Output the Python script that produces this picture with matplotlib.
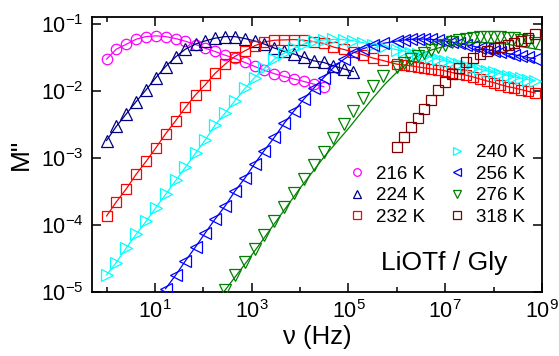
import numpy as np
import matplotlib.pyplot as plt
from matplotlib.lines import Line2D
from matplotlib.ticker import FixedLocator, NullLocator, NullFormatter

plt.rcParams['font.family'] = ['Liberation Sans', 'DejaVu Sans']
plt.rcParams['mathtext.default'] = 'regular'

# --- frequency grids (log10 of Hz) ---
LOGF_LOW = [0.00, 0.20, 0.41, 0.61, 0.82, 1.02, 1.22, 1.43, 1.63, 1.84,
            2.04, 2.24, 2.45, 2.65, 2.86, 3.06, 3.26, 3.47, 3.67, 3.88,
            4.08, 4.28, 4.49, 4.69, 4.90, 5.10, 5.30, 5.51, 5.71]
LOGF_HIGH = [6.00, 6.14, 6.29, 6.43, 6.57, 6.71, 6.86, 7.00, 7.14, 7.29,
             7.43, 7.57, 7.71, 7.86, 8.00, 8.14, 8.29, 8.43, 8.57, 8.71, 8.86]

# --- log10(M'') ---
LOGM_216 = [-1.525, -1.377, -1.302, -1.228, -1.188, -1.178, -1.188, -1.218, -1.258, -1.307,
            -1.362, -1.411, -1.466, -1.515, -1.575, -1.634, -1.689, -1.743, -1.783, -1.823,
            -1.858, -1.897, -1.937]
LOGM_224 = [-2.74, -2.53, -2.34, -2.16, -1.98, -1.80, -1.635, -1.49, -1.376, -1.30,
            -1.253, -1.213, -1.189, -1.189, -1.218, -1.253, -1.30, -1.36, -1.41, -1.45,
            -1.50, -1.55, -1.575, -1.625, -1.67, -1.71]
LOGM_232 = [-3.865, -3.657, -3.458, -3.245, -3.048, -2.848, -2.640, -2.442, -2.245, -2.056,
            -1.907, -1.739, -1.60, -1.486, -1.40, -1.327, -1.268, -1.243, -1.238, -1.233,
            -1.243, -1.263, -1.29, -1.345, -1.38, -1.42, -1.46, -1.51, -1.545,
            -1.60, -1.61, -1.625, -1.64, -1.655, -1.67, -1.68, -1.70, -1.725, -1.745,
            -1.765, -1.79, -1.82, -1.85, -1.875, -1.905, -1.935, -1.955, -1.98, -2.005, -2.03]
LOGM_240 = [-4.747, -4.56, -4.34, -4.14, -3.944, -3.74, -3.543, -3.335, -3.137, -2.929,
            -2.73, -2.51, -2.33, -2.15, -1.962, -1.80, -1.66, -1.525, -1.436, -1.36,
            -1.30, -1.26, -1.24, -1.23, -1.235, -1.25, -1.28, -1.31, -1.34,
            -1.385, -1.405, -1.43, -1.45, -1.475, -1.50, -1.525, -1.55, -1.575, -1.60,
            -1.625, -1.65, -1.675, -1.70, -1.72, -1.745, -1.77, -1.79, -1.81, -1.83, -1.85]
LOGM_256 = [-4.95, -4.747, -4.535, -4.326, -4.118, -3.915, -3.717, -3.498, -3.30, -3.086,
            -2.889, -2.69, -2.483, -2.294, -2.12, -1.96, -1.80, -1.65, -1.53, -1.43,
            -1.37, -1.32, -1.29,
            -1.255, -1.24, -1.23, -1.225, -1.225, -1.23, -1.24, -1.255, -1.27, -1.29,
            -1.31, -1.33, -1.355, -1.38, -1.40, -1.42, -1.44, -1.46, -1.48, -1.50, -1.52]
LOGM_276 = [-4.97, -4.75, -4.55, -4.36, -4.15, -3.94, -3.73, -3.523, -3.32, -3.11,
            -2.914, -2.706, -2.50, -2.30, -2.10, -1.92, -1.78,
            -1.64, -1.58, -1.53, -1.48, -1.43, -1.39, -1.35, -1.31, -1.27, -1.24,
            -1.22, -1.205, -1.195, -1.19, -1.19, -1.195, -1.205, -1.215, -1.235, -1.26, -1.29]
LOGM_318 = [-2.83, -2.68, -2.542, -2.402, -2.264, -2.13, -1.98, -1.86, -1.748, -1.659,
            -1.575, -1.51, -1.45, -1.40, -1.36, -1.338, -1.312, -1.278, -1.253, -1.203, -1.153]

# fit curve of 276 K (drawn separately, it does not go through the points)
LOGF_FIT_276 = [2.40, 3.00, 3.50, 4.00, 4.50, 5.00, 5.50, 5.75, 6.00, 6.25, 6.50, 6.75,
                7.00, 7.25, 7.50, 7.75, 8.00, 8.25, 8.50, 8.75, 9.00]
LOGM_FIT_276 = [-5.02, -4.45, -3.95, -3.45, -2.98, -2.56, -2.11, -1.90, -1.72, -1.57, -1.45, -1.38,
                -1.33, -1.30, -1.28, -1.275, -1.285, -1.30, -1.33, -1.36, -1.39]

series = [
    ('216 K', '#FF00FF', 'o', 7.5, LOGF_LOW[0:23], LOGM_216, True),
    ('224 K', '#000080', '^', 8.5, LOGF_LOW[0:26], LOGM_224, True),
    ('232 K', '#FF0000', 's', 7.0, LOGF_LOW + LOGF_HIGH, LOGM_232, True),
    ('240 K', '#00FFFF', '>', 8.5, LOGF_LOW + LOGF_HIGH, LOGM_240, True),
    ('256 K', '#0000FF', '<', 8.5, LOGF_LOW[6:] + LOGF_HIGH, LOGM_256, True),
    ('276 K', '#008000', 'v', 8.5, LOGF_LOW[12:] + LOGF_HIGH, LOGM_276, False),
    ('318 K', '#800000', 's', 7.0, LOGF_HIGH, LOGM_318, False),
]

fig = plt.figure(figsize=(5.59, 3.56), dpi=100)
ax = fig.add_axes([92 / 559, 64 / 356, 450 / 559, 275 / 356])

handles = [Line2D([], [], ls='none', marker=None)]
labels = ['']
for label, color, marker, ms, logf, logm, with_line in series:
    f = 10 ** np.array(logf)
    m = 10 ** np.array(logm)
    if with_line:
        ax.plot(f, m, '-', color=color, lw=0.9, zorder=2)
    ax.plot(f, m, ls='none', marker=marker, ms=ms, mfc='none', mec=color, mew=0.9, zorder=3)
    handles.append(Line2D([], [], ls='none', marker=marker, ms=5.5, mfc='none', mec=color, mew=0.9))
    labels.append(label)

ax.plot(10 ** np.array(LOGF_FIT_276), 10 ** np.array(LOGM_FIT_276), '-', color='#008000', lw=0.9, zorder=2)

ax.set_xscale('log')
ax.set_yscale('log')
ax.set_xlim(0.5, 1e9)
ax.set_ylim(1e-5, 0.127)

ax.xaxis.set_major_locator(FixedLocator([1e1, 1e3, 1e5, 1e7, 1e9]))
ax.xaxis.set_minor_locator(FixedLocator([1e0, 1e2, 1e4, 1e6, 1e8]))
ax.xaxis.set_minor_formatter(NullFormatter())
ax.yaxis.set_major_locator(FixedLocator([1e-5, 1e-4, 1e-3, 1e-2, 1e-1]))
ax.yaxis.set_minor_locator(NullLocator())

ax.tick_params(which='both', direction='in', top=True, right=True, width=1.1)
ax.tick_params(which='major', length=6.5, labelsize=15.5, pad=6)
ax.tick_params(which='minor', length=3.5)
for sp in ax.spines.values():
    sp.set_linewidth(1.3)

ax.set_xlabel('ν (Hz)', fontsize=18.5, labelpad=1)
ax.set_ylabel('M"', fontsize=19, labelpad=6)

ax.legend(handles, labels, ncol=2, loc='upper right', bbox_to_anchor=(0.962, 0.538),
          frameon=False, fontsize=13.5, handlelength=0.8, handletextpad=0.6,
          columnspacing=1.3, labelspacing=0.24, borderpad=0, borderaxespad=0)

ax.text(0.922, 0.08, 'LiOTf / Gly', transform=ax.transAxes, ha='right', va='baseline', fontsize=19)

fig.savefig('out.png', dpi=100)
